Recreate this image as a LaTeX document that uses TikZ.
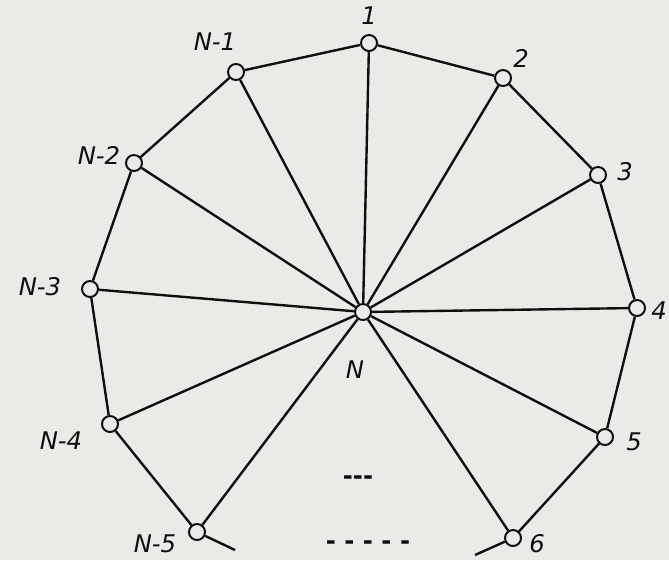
\documentclass[tikz,border=0pt]{standalone}
\usepackage{fontspec}
\setsansfont{DejaVu Sans}
\usepackage{tikz}
\usetikzlibrary{positioning}
\definecolor{paper}{RGB}{234,234,231}
\definecolor{ink}{RGB}{15,15,15}

\begin{document}
\begin{tikzpicture}[x=0.025cm, y=-0.025cm, line width=1.7pt, draw=ink,
    vtx/.style={draw=ink, circle, fill=paper, inner sep=0pt, minimum size=0.4cm, line width=1.4pt},
    lbl/.style={text=ink, font=\sffamily\itshape\LARGE}]
  \fill[paper] (0,0) rectangle (669,560);
  \useasboundingbox (0,0) rectangle (669,560);
  % hub
  \node[vtx] (hub) at (363,312) {};
  \node[lbl] (hub-lbl) at (355,370) {N};
  % rim
  \foreach \n/\x/\y/\lx/\ly/\t in {r1/369/43/369/16/1, r2/503/78/521/58/2,
      r3/598/175/625/172/3, r4/637/308/659/311/4, r5/605/437/634/442/5,
      r6/513/538/537/544/6, m1/236/72/215/42/N-1, m2/134/163/99/155/N-2,
      m3/90/289/40/287/N-3, m4/110/424/61/441/N-4, m5/197/532/155/544/N-5}{
    \node[vtx] (\n) at (\x,\y) {};
    \node[lbl] (\n-lbl) at (\lx,\ly) {\t};
  }
  % open ends
  \coordinate (m5-end) at (235,550);
  \coordinate (r6-end) at (475,555);
  % spokes
  \foreach \n in {r1,r2,r3,r4,r5,r6,m1,m2,m3,m4,m5}
    \draw (hub) -- (\n);
  % rim edges
  \draw (r1) -- (r2) (r2) -- (r3) (r3) -- (r4) (r4) -- (r5) (r5) -- (r6);
  \draw (r1) -- (m1) (m1) -- (m2) (m2) -- (m3) (m3) -- (m4) (m4) -- (m5);
  \draw (m5) -- (m5-end) (r6) -- (r6-end);
  % gaps
  \node[lbl, font=\sffamily\bfseries\LARGE] (dots-a) at (358,480) {-{}-{}-};
  \node[lbl, font=\sffamily\bfseries\LARGE] (dots-b) at (368,545) {- - - - -};
\end{tikzpicture}
\end{document}
